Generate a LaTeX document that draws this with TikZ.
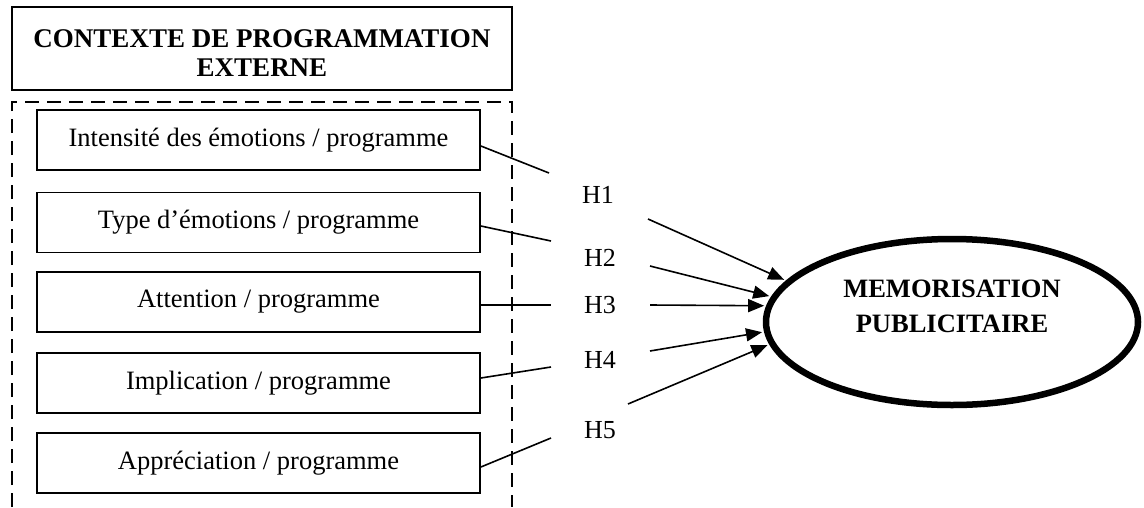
\documentclass[tikz,border=0pt]{standalone}
\usepackage{fontspec}
\setmainfont{Liberation Serif}
\usetikzlibrary{arrows.meta, shapes.geometric}

\begin{document}
\begin{tikzpicture}[x=1pt,y=-1pt,
        varbox/.style={draw, line width=1.8pt, minimum width=443pt, minimum height=60pt, inner sep=0pt, font=\fontsize{26.5}{30}\selectfont},
        hyp/.style={font=\fontsize{26}{30}\selectfont},
        fleche/.style={-{Triangle[length=16pt,width=13pt]}, line width=1.6pt, shorten >=2pt}]
        \useasboundingbox (0,0) rectangle (1144,507);

        \node[draw, line width=1.8pt, minimum width=500pt, minimum height=83pt, inner sep=0pt] (contexte) at (262,48.5) {};
        \node[align=center, font=\bfseries\fontsize{27}{29}\selectfont] (contextetxt) at ([yshift=-5pt]contexte.center) {CONTEXTE DE PROGRAMMATION\\EXTERNE};
        \draw[dash pattern=on 14pt off 8pt, line width=1.6pt] (12,507)--(12,102)--(512,102)--(512,507);

        \node[varbox] (intensite) at (258.5,140) {Intensité des émotions / programme};
        \node[varbox] (type) at (258.5,222.5) {Type d’émotions / programme};
        \node[varbox] (attention) at (258.5,302) {Attention / programme};
        \node[varbox] (implication) at (258.5,383) {Implication / programme};
        \node[varbox] (appreciation) at (258.5,463) {Appréciation / programme};

        \node[draw, ellipse, line width=6.5pt, minimum width=372pt, minimum height=166pt, inner sep=0pt] (memo) at (952,322) {};
        \node[align=center, font=\bfseries\fontsize{26.5}{35}\selectfont] (memotxt) at ([yshift=16pt]memo.center) {MEMORISATION\\PUBLICITAIRE};

        \node[hyp] (h1) at (598,195) {H1};
        \node[hyp] (h2) at (600,258) {H2};
        \node[hyp] (h3) at (600,305) {H3};
        \node[hyp] (h4) at (600,360) {H4};
        \node[hyp] (h5) at (600,430) {H5};

        \coordinate (f1) at (549,173);
        \coordinate (f2) at (551,241);
        \coordinate (f3) at (551,305);
        \coordinate (f4) at (551,367);
        \coordinate (f5) at (551,438);
        \coordinate (d1) at (648,219);
        \coordinate (d2) at (650,266);
        \coordinate (d3) at (650,305);
        \coordinate (d4) at (650,351);
        \coordinate (d5) at (628,404);

        \draw[line width=1.6pt] ([yshift=-6pt]intensite.east)--(f1);
        \draw[line width=1.6pt] ([yshift=-3.5pt]type.east)--(f2);
        \draw[line width=1.6pt] ([yshift=-3pt]attention.east)--(f3);
        \draw[line width=1.6pt] ([yshift=5pt]implication.east)--(f4);
        \draw[line width=1.6pt] ([yshift=-4pt]appreciation.east)--(f5);

        \draw[fleche] (d1)--(memo.166.8);
        \draw[fleche] (d2)--(memo.172.1);
        \draw[fleche] (d3)--(memo.175.4);
        \draw[fleche] (d4)--(memo.183.7);
        \draw[fleche] (d5)--(memo.187.2);
    \end{tikzpicture}
\end{document}
